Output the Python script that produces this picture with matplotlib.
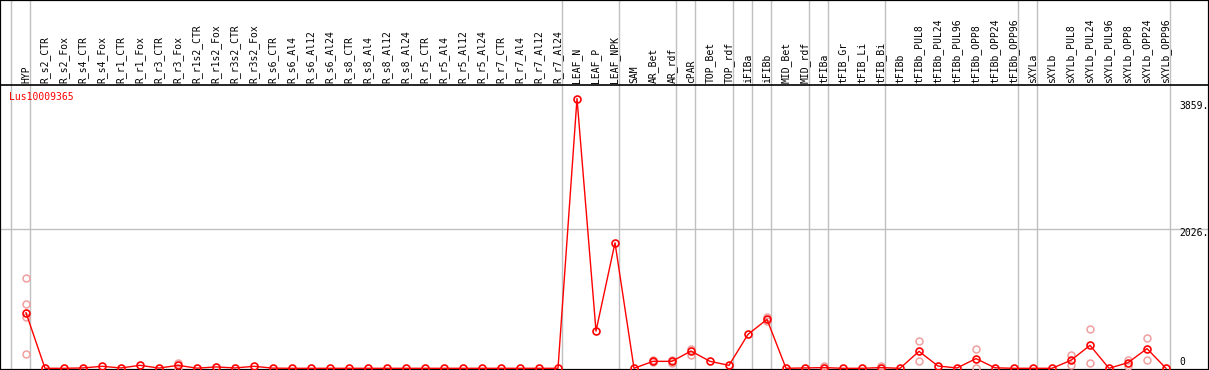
import matplotlib
matplotlib.use("Agg")
import matplotlib.pyplot as plt
import numpy as np

categories = ["HYP", "R_s2_CTR", "R_s2_Fox", "R_s4_CTR", "R_s4_Fox", "R_r1_CTR", "R_r1_Fox",
              "R_r3_CTR", "R_r3_Fox", "R_r1s2_CTR", "R_r1s2_Fox", "R_r3s2_CTR", "R_r3s2_Fox",
              "R_s6_CTR", "R_s6_Al4", "R_s6_Al12", "R_s6_Al24", "R_s8_CTR", "R_s8_Al4",
              "R_s8_Al12", "R_s8_Al24", "R_r5_CTR", "R_r5_Al4", "R_r5_Al12", "R_r5_Al24",
              "R_r7_CTR", "R_r7_Al4", "R_r7_Al12", "R_r7_Al24", "LEAF_N", "LEAF_P", "LEAF_NPK",
              "SAM", "AR_Bet", "AR_rdf", "cPAR", "TOP_Bet", "TOP_rdf", "iFIBa", "iFIBb",
              "MID_Bet", "MID_rdf", "tFIBa", "tFIB_Gr", "tFIB_Li", "tFIB_Bi", "tFIBb",
              "tFIBb_PUL8", "tFIBb_PUL24", "tFIBb_PUL96", "tFIBb_OPP8", "tFIBb_OPP24",
              "tFIBb_OPP96", "sXYLa", "sXYLb", "sXYLb_PUL8", "sXYLb_PUL24", "sXYLb_PUL96",
              "sXYLb_OPP8", "sXYLb_OPP24", "sXYLb_OPP96"]

mean_values = [806, 0, 0, 5, 29, 5, 43, 3, 43, 2, 20, 5, 29, 2, 0, 0, 0, 0, 0, 0, 0,
               0, 0, 0, 0, 0, 0, 0, 0, 3910, 540, 1819, 0, 101, 101, 250, 101, 43,
               492, 709, 0, 5, 10, 0, 0, 10, 0, 246, 33, 5, 140, 7, 0, 0, 0, 116,
               333, 0, 82, 285, 0]

# replicate samples: (category index, value)
replicate_idx = [0, 0, 0, 0, 8, 8, 33, 33, 34, 34, 35, 35, 39, 39, 42, 45,
                 47, 47, 50, 50, 55, 55, 56, 56, 58, 58, 59, 59]
replicate_val = [1313, 936, 742, 213, 82, 10, 115, 85, 115, 75, 285, 200, 740, 680, 40, 30,
                 391, 101, 285, 10, 188, 43, 574, 82, 116, 40, 444, 126]

separators = [-1, 0, 28, 31, 34, 35, 37, 38, 39, 41, 42, 45, 52, 53, 60]
gene_name = "Lus10009365"
right_labels = ["3859.", "2026.", "0"]
grid_value = 2026

# ---- layout (pixel based) ----
W, H = 1209, 370
fig = plt.figure(figsize=(W / 100, H / 100), dpi=100)
ax = fig.add_axes([0, 0, 1, 1])
x0px, dxpx = 26.0, 19.0
y0px, kpx = 368.3, 0.069   # px per unit
ax.set_xlim(-x0px / dxpx, (W - x0px) / dxpx)
ax.set_ylim(-(H - y0px) / kpx, y0px / kpx)
ax.set_xticks([]); ax.set_yticks([])
for s in ax.spines.values():
    s.set_linewidth(1.6)
    s.set_color("black")

def vpx(py):
    return (y0px - py) / kpx

mono = "DejaVu Sans Mono"
# gridlines
ax.axhline(grid_value, color="#c0c0c0", lw=1, zorder=1)
for s in separators:
    ax.axvline(s + 4 / 19, color="#c0c0c0", lw=1, zorder=1)
# header line
ax.axhline(vpx(85), color="black", lw=1.2, zorder=3)

x = np.arange(len(categories))
for i, c in enumerate(categories):
    ax.text(i, vpx(83), c, rotation=90, ha="center", va="bottom",
            fontsize=7, family=mono, color="black", zorder=4)

ax.plot(replicate_idx, replicate_val, linestyle="none", marker="o", markersize=5,
        markerfacecolor="none", markeredgecolor="#f0a0a0", markeredgewidth=1.1, zorder=5)
ax.plot(x, mean_values, color="red", lw=1.0, marker="o", markersize=5,
        markerfacecolor="none", markeredgecolor="red", markeredgewidth=1.2, zorder=6)

fig.text(9 / W, 1 - 97 / H, gene_name, color="red", fontsize=7, family=mono,
         ha="left", va="center")
for lab, py in zip(right_labels, [106, 232.5, 362]):
    fig.text(1179 / W, 1 - py / H, lab, color="black", fontsize=7, family=mono,
             ha="left", va="center")

fig.savefig("out.png", dpi=100)
